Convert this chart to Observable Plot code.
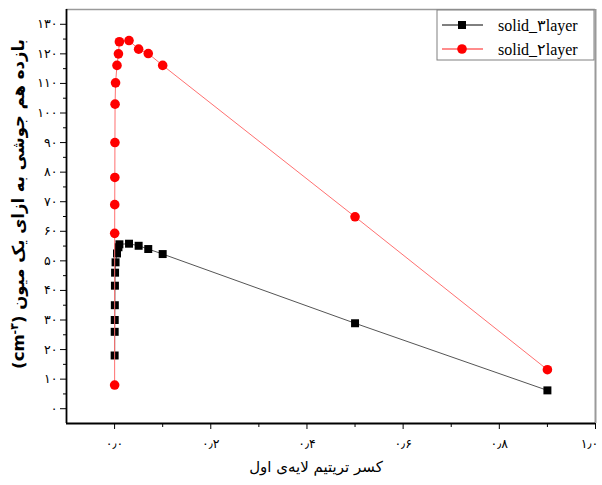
<!DOCTYPE html>
<html>
<head>
<meta charset="utf-8">
<script src="https://cdn.jsdelivr.net/npm/d3@7"></script>
<script src="https://cdn.jsdelivr.net/npm/@observablehq/plot@0.6"></script>
<style>
  body { margin: 0; background: #fff; }
  svg { background: #fff; }
</style>
</head>
<body>
<div id="chart"></div>
<script>
// Tritium fraction of the first layer
const tritiumFraction = [0.0001, 0.0002, 0.0003, 0.0005, 0.0007, 0.001, 0.002, 0.005, 0.008, 0.01, 0.03, 0.05, 0.07, 0.1, 0.5, 0.9];
// Fusion yield per muon, three-layer solid
const yieldThreeLayer = [18, 26, 30, 35, 41.6, 46, 49.5, 52.5, 54.6, 55.6, 55.8, 55.1, 54, 52.3, 28.9, 6.2];
// Fusion yield per muon, two-layer solid
const yieldTwoLayer = [8, 59.3, 69, 78.2, 90, 103, 110.2, 116.1, 120, 124.1, 124.5, 121.6, 120.1, 116.1, 64.9, 13.2];

const seriesNames = ["solid_۳layer", "solid_۲layer"];
const xTicks = [0, 0.2, 0.4, 0.6, 0.8, 1.0];
const xMinorTicks = [0.1, 0.3, 0.5, 0.7, 0.9];
const yTicks = [0, 10, 20, 30, 40, 50, 60, 70, 80, 90, 100, 110, 120, 130];
const yMinorTicks = [5, 15, 25, 35, 45, 55, 65, 75, 85, 95, 105, 115, 125];

const xTitle = "کسر تریتیم لایه‌ی اول";
const yTitle = "بازده هم جوشی به ازای یک میون (cm";
const yUnitPower = "-۳";

const faDigits = "۰۱۲۳۴۵۶۷۸۹";
const toPersian = s => String(s).replace(/\d/g, d => faDigits[d]).replace(".", "٫");

const three = tritiumFraction.map((x, i) => ({x, y: yieldThreeLayer[i]}));
const two = tritiumFraction.map((x, i) => ({x, y: yieldTwoLayer[i]}));

const frameGray = "#9a9a9a";

const svg = Plot.plot({
  width: 602,
  height: 485,
  marginLeft: 66,
  marginRight: 7,
  marginTop: 9,
  marginBottom: 62,
  style: {fontFamily: "'Liberation Serif', 'DejaVu Sans', serif", fontSize: "12px", color: "#000"},
  x: {domain: [-0.1, 1.0]},
  y: {domain: [-5, 135]},
  marks: [
    // frame: gray top and right, black left and bottom
    Plot.ruleY([135], {stroke: frameGray, strokeWidth: 1.5}),
    Plot.ruleX([1.0], {stroke: frameGray, strokeWidth: 2}),
    Plot.axisX({ticks: xTicks, tickFormat: d => toPersian(d.toFixed(1)), tickSize: 6, tickPadding: 10, label: null, fontSize: 12.5}),
    Plot.axisX({ticks: xMinorTicks, tickFormat: () => "", tickSize: 4, label: null}),
    Plot.axisY({ticks: yTicks, tickFormat: d => toPersian(d), tickSize: 6, tickPadding: 3, label: null, fontSize: 12.5}),
    Plot.axisY({ticks: yMinorTicks, tickFormat: () => "", tickSize: 3, label: null}),
    Plot.ruleX([-0.1], {stroke: "#000", strokeWidth: 1.8}),
    Plot.ruleY([-5], {stroke: "#000", strokeWidth: 1.8}),
    // series
    Plot.line(three, {x: "x", y: "y", stroke: "#555", strokeWidth: 1}),
    Plot.dot(three, {x: "x", y: "y", symbol: "square", r: 4.5, fill: "#000", stroke: "none"}),
    Plot.line(two, {x: "x", y: "y", stroke: "#ff7070", strokeWidth: 1}),
    Plot.dot(two, {x: "x", y: "y", symbol: "circle", r: 4.8, fill: "#ff0000", stroke: "none"})
  ]
});

const root = d3.select(svg);

// keep the last x tick label inside the right edge
root.selectAll("text").filter(function () { return this.textContent === "۱٫۰"; })
  .attr("dx", -6);

// legend box in the top-right corner
const lg = root.append("g").attr("transform", "translate(437,10)").attr("text-anchor", "start");
lg.append("rect").attr("width", 157).attr("height", 50)
  .attr("fill", "#fff").attr("stroke", "#808080").attr("stroke-width", 1);
const legendStyles = [
  {line: "#000", fill: "#000", shape: "square"},
  {line: "#ff8c8c", fill: "#ff0000", shape: "circle"}
];
seriesNames.forEach((name, i) => {
  const cy = 15 + i * 24;
  const st = legendStyles[i];
  lg.append("line").attr("x1", 5).attr("x2", 46).attr("y1", cy).attr("y2", cy)
    .attr("stroke", st.line).attr("stroke-width", i ? 2 : 1);
  if (st.shape === "square") {
    lg.append("rect").attr("x", 21).attr("y", cy - 4).attr("width", 8).attr("height", 8).attr("fill", st.fill);
  } else {
    lg.append("circle").attr("cx", 25).attr("cy", cy).attr("r", 4.8).attr("fill", st.fill);
  }
  lg.append("text").attr("x", 61).attr("y", cy).attr("dy", "0.35em")
    .attr("text-anchor", "start")
    .attr("font-family", "'Liberation Serif', 'DejaVu Sans', serif").attr("font-size", 16)
    .attr("fill", "#000").text(name);
});

// x axis title
root.append("text")
  .attr("x", 316).attr("y", 467).attr("dy", "0.35em")
  .attr("text-anchor", "middle").attr("direction", "rtl")
  .attr("font-family", "'DejaVu Sans', sans-serif").attr("font-size", 15)
  .attr("fill", "#000").text(xTitle);

// y axis title (rotated, bold, with a superscript unit power)
const yt = root.append("text")
  .attr("transform", "translate(18,204) rotate(-90)")
  .attr("text-anchor", "middle").attr("direction", "rtl")
  .attr("dy", "0.35em")
  .attr("font-family", "'DejaVu Sans', sans-serif").attr("font-weight", "bold").attr("font-size", 16.5)
  .attr("fill", "#000");
yt.append("tspan").text(yTitle);
yt.append("tspan").attr("baseline-shift", "super").attr("font-size", 11).text(yUnitPower);
yt.append("tspan").text(")");

document.getElementById("chart").appendChild(svg);
</script>
</body>
</html>
